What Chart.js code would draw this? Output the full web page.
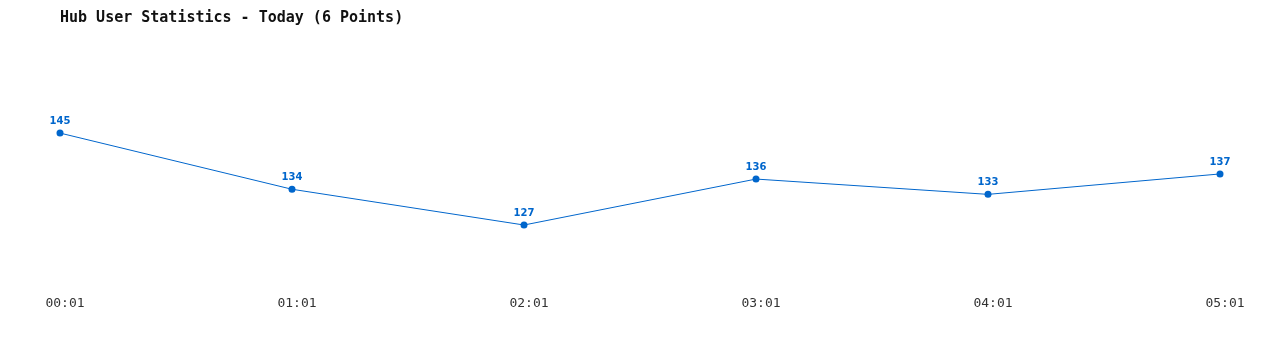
<!DOCTYPE html>
<html>
<head>
<meta charset="utf-8">
<script src="https://cdn.jsdelivr.net/npm/chart.js@4/dist/chart.umd.min.js"></script>
<style>
html,body{margin:0;padding:0;background:#fff;}
#wrap{width:1280px;height:350px;position:relative;}
</style>
</head>
<body>
<div id="wrap"><canvas id="c" width="1280" height="350"></canvas></div>
<script>
const titleText = "Hub User Statistics - Today (6 Points)";
const categories = ["00:01", "01:01", "02:01", "03:01", "04:01", "05:01"];
const userCounts = [145, 134, 127, 136, 133, 137];

const blue = "#0066cc";

const valueLabels = {
  id: "valueLabels",
  afterDatasetsDraw(chart) {
    const ctx = chart.ctx;
    const meta = chart.getDatasetMeta(0);
    ctx.save();
    ctx.font = "bold 10px 'DejaVu Sans', Verdana, sans-serif";
    ctx.fillStyle = blue;
    ctx.textAlign = "center";
    ctx.textBaseline = "alphabetic";
    meta.data.forEach((pt, i) => {
      ctx.fillText(String(userCounts[i]), pt.x, pt.y - 9);
    });
    ctx.restore();
  }
};

new Chart(document.getElementById("c"), {
  type: "line",
  data: {
    labels: categories,
    datasets: [{
      data: userCounts,
      borderColor: blue,
      backgroundColor: blue,
      borderWidth: 1,
      pointRadius: 3.5,
      pointBorderWidth: 0,
      pointBackgroundColor: blue,
      tension: 0,
      fill: false
    }]
  },
  options: {
    responsive: false,
    animation: false,
    layout: { padding: { left: 60, right: 60, top: 0, bottom: 32.5 } },
    plugins: {
      legend: { display: false },
      tooltip: { enabled: false },
      title: {
        display: true,
        text: titleText,
        align: "start",
        color: "#111",
        font: { family: "'DejaVu Sans Mono', monospace", size: 15, weight: "bold" },
        padding: { top: 9, bottom: 32 }
      }
    },
    scales: {
      x: {
        offset: false,
        grid: { display: false, drawTicks: false },
        border: { display: false },
        ticks: {
          color: "#333",
          padding: 6,
          labelOffset: 5,
          maxRotation: 0,
          autoSkip: false,
          font: { family: "'DejaVu Sans Mono', monospace", size: 13 }
        }
      },
      y: {
        display: false,
        min: Math.min(...userCounts) * 0.9,
        max: Math.max(...userCounts) * 1.1
      }
    }
  },
  plugins: [valueLabels]
});
</script>
</body>
</html>
